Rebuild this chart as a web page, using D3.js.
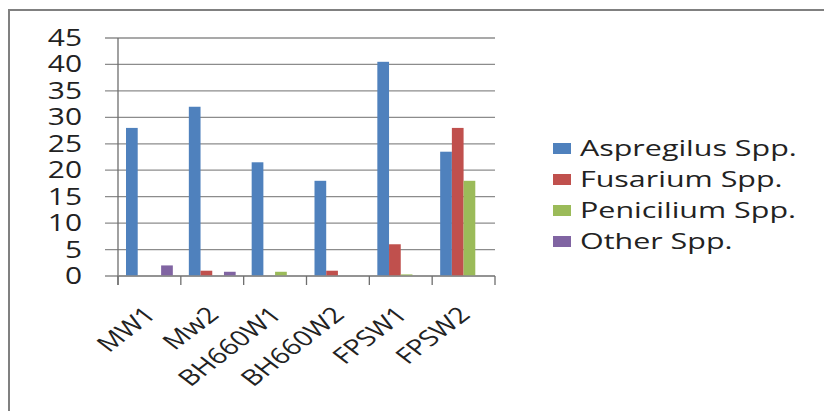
<!DOCTYPE html>
<html>
<head>
<meta charset="utf-8">
<script src="https://cdn.jsdelivr.net/npm/d3@7"></script>
<style>
  body { margin: 0; background: #fff; }
  svg { display: block; }
  text { font-family: "Open Sans", "DejaVu Sans", sans-serif; fill: #222; }
</style>
</head>
<body>
<svg id="chart" width="824" height="411"></svg>
<script>
const sites = ['MW1', 'Mw2', 'BH660W1', 'BH660W2', 'FPSW1', 'FPSW2'];
const species = ['Aspregilus Spp.', 'Fusarium Spp.', 'Penicilium Spp.', 'Other Spp.'];
const aspregilus = [28, 32, 21.5, 18, 40.5, 23.5];
const fusarium   = [0, 1, 0, 1, 6, 28];
const penicilium = [0, 0, 0.8, 0, 0.3, 18];
const other      = [2, 0.8, 0, 0, 0, 0];
const yTicks = [0, 5, 10, 15, 20, 25, 30, 35, 40, 45];
const colors = ['#4F81BD', '#C0504D', '#9BBB59', '#8064A2'];

const seriesVals = [aspregilus, fusarium, penicilium, other];
const sx = 1.3; // the picture is stretched sideways

const svg = d3.select('#chart');

// frame
svg.append('path')
  .attr('d', 'M9,411 V10 H824')
  .attr('fill', 'none')
  .attr('stroke', '#808080')
  .attr('stroke-width', 2);

const plotL = 118, plotR = 495, plotT = 38, plotB = 276;

const x0 = d3.scaleBand().domain(sites).range([plotL, plotR]);
const x1 = d3.scaleBand().domain(species).range([8, x0.bandwidth() - 8]);
const y = d3.scaleLinear().domain([0, 45]).range([plotB, plotT]);

// gridlines + y ticks
svg.append('g').selectAll('line')
  .data(yTicks)
  .join('line')
  .attr('x1', 105).attr('x2', plotR)
  .attr('y1', d => y(d)).attr('y2', d => y(d))
  .attr('stroke', '#8c8c8c')
  .attr('stroke-width', 1.3);

svg.append('g').selectAll('text')
  .data(yTicks)
  .join('text')
  .attr('transform', d => `translate(82,${y(d) + 8}) scale(${sx},1)`)
  .attr('text-anchor', 'end')
  .attr('font-size', 23)
  .text(d => d);

// bars
const groups = svg.append('g').selectAll('g')
  .data(sites)
  .join('g')
  .attr('transform', d => `translate(${x0(d)},0)`);

groups.selectAll('rect')
  .data((d, i) => species.map((s, k) => ({ s, k, v: seriesVals[k][i] })))
  .join('rect')
  .attr('x', d => x1(d.s))
  .attr('width', x1.bandwidth())
  .attr('y', d => y(d.v))
  .attr('height', d => plotB - y(d.v))
  .attr('fill', d => colors[d.k]);

// axes lines
svg.append('line')
  .attr('x1', plotL).attr('x2', plotL)
  .attr('y1', plotT).attr('y2', plotB + 9)
  .attr('stroke', '#6e6e6e').attr('stroke-width', 1.3);
svg.append('line')
  .attr('x1', plotL).attr('x2', plotR)
  .attr('y1', plotB).attr('y2', plotB)
  .attr('stroke', '#8c8c8c').attr('stroke-width', 1.3);

const bounds = sites.map(s => x0(s)).concat([plotR]);
svg.append('g').selectAll('line')
  .data(bounds)
  .join('line')
  .attr('x1', d => d).attr('x2', d => d)
  .attr('y1', plotB).attr('y2', plotB + 9)
  .attr('stroke', '#6e6e6e').attr('stroke-width', 1.3);

// x labels
svg.append('g').selectAll('text')
  .data(sites)
  .join('text')
  .attr('transform', d => `translate(${x0(d) + x0.bandwidth() / 2 + 8},${plotB + 40}) scale(${sx},1) rotate(-45)`)
  .attr('text-anchor', 'end')
  .attr('font-size', 22)
  .text(d => d);

// legend
const legend = svg.append('g').selectAll('g')
  .data(species)
  .join('g')
  .attr('transform', (d, i) => `translate(553,${148 + i * 31})`);

legend.append('rect')
  .attr('x', 0).attr('y', -5)
  .attr('width', 18).attr('height', 11)
  .attr('fill', (d, i) => colors[i]);

legend.append('text')
  .attr('transform', `translate(27,8) scale(1.45,1)`)
  .attr('font-size', 21)
  .text(d => d);
</script>
</body>
</html>
